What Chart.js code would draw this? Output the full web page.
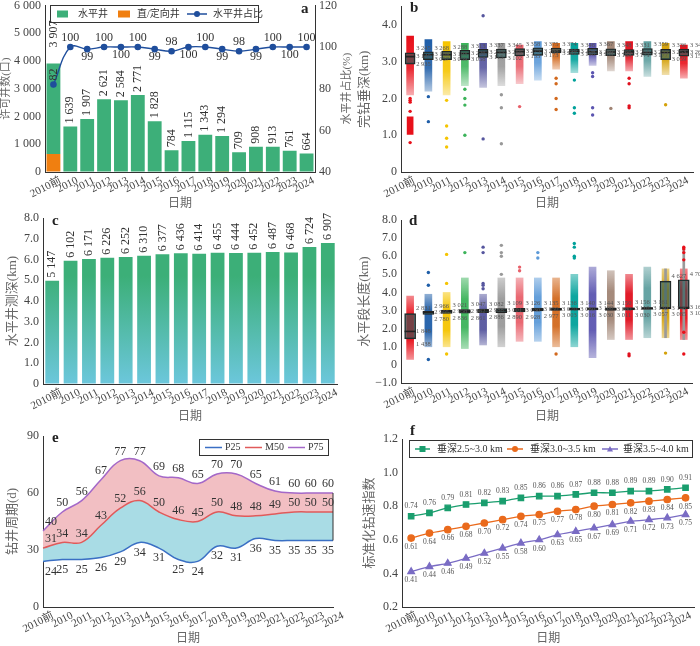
<!DOCTYPE html>
<html>
<head>
<meta charset="utf-8">
<script src="https://cdn.jsdelivr.net/npm/chart.js"></script>
<style>
  html, body { margin: 0; padding: 0; background: #fff; }
  #wrap { position: relative; width: 700px; height: 646px; overflow: hidden; }
  .pane { position: absolute; }
</style>
</head>
<body>
<div id="wrap">
  <div class="pane" style="left:0;top:0"><canvas id="ca" width="360" height="212"></canvas></div>
  <div class="pane" style="left:350px;top:0"><canvas id="cb" width="350" height="212"></canvas></div>
  <div class="pane" style="left:0;top:212px"><canvas id="cc" width="350" height="212"></canvas></div>
  <div class="pane" style="left:350px;top:212px"><canvas id="cd" width="350" height="212"></canvas></div>
  <div class="pane" style="left:0;top:424px"><canvas id="ce" width="350" height="222"></canvas></div>
  <div class="pane" style="left:350px;top:424px"><canvas id="cf" width="350" height="222"></canvas></div>
</div>
<script>
const years = ['2010前', '2010', '2011', '2012', '2013', '2014', '2015', '2016', '2017', '2018', '2019', '2020', '2021', '2022', '2023', '2024'];

// a - permitted wells
const aTotal = [3907, 1639, 1907, 2621, 2584, 2771, 1828, 784, 1115, 1343, 1294, 709, 908, 913, 761, 664];
const aDirectional = [650, 0, 19, 0, 0, 0, 18, 16, 0, 0, 13, 14, 9, 0, 0, 0];
const aShare = [82, 100, 99, 100, 100, 100, 99, 98, 100, 100, 99, 98, 99, 100, 100, 100];

// b - vertical depth (km)
const bLo = [2.10, 2.20, 2.10, 2.35, 2.30, 2.35, 2.40, 2.50, 2.80, 2.70, 2.90, 2.75, 2.75, 2.60, 2.65, 2.55];
const bHi = [3.70, 3.60, 3.55, 3.50, 3.50, 3.50, 3.45, 3.55, 3.50, 3.50, 3.50, 3.55, 3.55, 3.55, 3.50, 3.45];
const bClump = [[1.02, 1.50], null, null, null, null, null, null, null, null, null, null, null, null, null, null, null];
const bOut = [[0.8, 1.65, 1.9, 1.95, 2.0], [2.05, 1.37], [1.95, 1.25, 0.92, 0.68], [2.25, 2.0, 1.82, 1.0], [0.9, 4.25],
  [2.1, 1.75, 0.77], [1.78], [], [2.55, 2.4, 2.0, 1.7], [2.5, 1.75, 1.6], [2.7, 2.6, 1.75, 1.55], [1.73],
  [2.55, 2.4, 1.8, 1.75], [], [1.83], []];
const bQ1 = [2.935, 3.057, 3.059, 3.058, 3.115, 3.102, 3.155, 3.173, 3.242, 3.198, 3.189, 3.168, 3.171, 3.177, 3.059, 3.150];
const bMed = [3.140, 3.189, 3.193, 3.226, 3.255, 3.255, 3.275, 3.288, 3.290, 3.284, 3.269, 3.266, 3.268, 3.253, 3.253, 3.268];
const bQ3 = [3.245, 3.268, 3.288, 3.313, 3.337, 3.345, 3.358, 3.375, 3.374, 3.346, 3.367, 3.348, 3.331, 3.359, 3.336, 3.342];

// c - horizontal well measured depth
const cDepth = [4.97, 5.94, 6.02, 6.09, 6.12, 6.18, 6.25, 6.30, 6.28, 6.33, 6.31, 6.33, 6.36, 6.34, 6.60, 6.80];
const cLabel = [5147, 6102, 6171, 6226, 6252, 6310, 6377, 6436, 6414, 6455, 6444, 6452, 6487, 6468, 6724, 6907];

// d - lateral length (km)
const dLo = [0.30, 1.00, 1.00, 0.90, 1.10, 1.00, 1.30, 1.30, 1.00, 1.00, 0.40, 1.40, 1.40, 1.50, 1.50, 1.40];
const dHi = [3.80, 3.90, 4.00, 4.80, 3.90, 4.80, 4.80, 4.80, 4.80, 5.00, 5.40, 5.20, 5.00, 5.40, 5.30, 5.30];
const dOut = [[], [0.3, 4.4, 5.1], [0.6, 4.5, 6.1], [6.2], [4.2, 4.4, 4.5, 6.2, 6.5], [5.0, 6.0, 6.2, 6.6], [5.2, 5.4],
  [5.9, 6.2], [0.6], [5.9, 6.0, 6.5, 6.7], [], [], [0.5, 0.6], [], [0.65], [5.8, 6.2, 6.4, 6.5, 1.8, 0.6]];
const dWhisker = [null, null, null, null, null, null, null, null, null, null, null, null, null, null, [1.5, 5.3], [1.4, 6.45]];
const dQ1 = [1.438, 2.780, 2.836, 2.861, 2.886, 2.890, 2.928, 2.977, 3.003, 3.016, 3.030, 3.011, 3.030, 3.057, 3.085, 3.105];
const dMed = [1.848, 2.905, 2.958, 2.962, 2.988, 3.001, 3.030, 3.050, 3.070, 3.080, 3.100, 3.080, 3.110, 3.130, 3.146, 3.165];
const dQ3 = [2.831, 2.966, 3.021, 3.047, 3.082, 3.109, 3.126, 3.135, 3.136, 3.140, 3.144, 3.150, 3.156, 3.161, 4.627, 4.702];

// e - drilling cycle (d)
const eP25 = [24, 25, 25, 26, 29, 34, 31, 25, 24, 32, 31, 36, 35, 35, 35, 35];
const eM50 = [31, 34, 34, 43, 52, 56, 50, 46, 45, 50, 48, 48, 49, 50, 50, 50];
const eP75 = [40, 50, 56, 67, 77, 77, 69, 68, 65, 70, 70, 65, 61, 60, 60, 60];

// f - normalized ROP index
const fShallow = [0.74, 0.76, 0.79, 0.81, 0.82, 0.83, 0.85, 0.86, 0.86, 0.87, 0.88, 0.88, 0.89, 0.89, 0.90, 0.91];
const fMiddle = [0.61, 0.64, 0.66, 0.68, 0.70, 0.72, 0.74, 0.75, 0.77, 0.78, 0.80, 0.81, 0.82, 0.83, 0.84, 0.85];
const fDeep = [0.41, 0.44, 0.46, 0.49, 0.52, 0.55, 0.58, 0.60, 0.63, 0.65, 0.67, 0.69, 0.71, 0.72, 0.73, 0.75];

const palette = ['#e8101a', '#1f5ea8', '#f5c400', '#3cb35a', '#56569e', '#999999', '#e8606a', '#5c9ad8',
  '#d2691e', '#00a19a', '#5b55b0', '#a08474', '#e0101e', '#5f9f9f', '#d4a10a', '#e8101a'];

const FONT = "'Liberation Serif', 'Noto Sans CJK SC', serif";
Chart.defaults.font.family = FONT;
Chart.defaults.font.size = 12;
Chart.defaults.color = '#444';
Chart.defaults.animation = false;
Chart.defaults.plugins.legend.display = false;
Chart.defaults.plugins.tooltip.enabled = false;

function fmt(n) { return String(n).replace(/\B(?=(\d{3})+(?!\d))/g, ' '); }

function rgba(hex, a) {
  const n = parseInt(hex.slice(1), 16);
  return 'rgba(' + (n >> 16) + ',' + ((n >> 8) & 255) + ',' + (n & 255) + ',' + a + ')';
}

function xScale(h, pb, offset, lo) {
  return {
    type: 'category', offset: offset,
    grid: { drawOnChartArea: false, drawTicks: false },
    border: { color: '#333' },
    ticks: { autoSkip: false, maxRotation: 27, minRotation: 27, padding: 2, labelOffset: lo,
      color: '#444', font: { size: 11 } },
    title: { display: true, text: '日期', color: '#666', font: { size: 12 }, padding: { top: 0, bottom: pb } },
    afterFit(s) { s.height = h; s.paddingLeft = 0; s.paddingRight = 0; }
  };
}

function yScale(o) {
  return {
    position: o.pos || 'left', min: o.min, max: o.max,
    grid: { drawOnChartArea: false, drawTicks: false },
    border: { color: '#333' },
    ticks: { stepSize: o.step, padding: 4, color: '#444', font: { size: 12 }, callback: o.fmt },
    title: { display: !o.noTitle, text: o.title, color: '#666', font: { size: o.ts || 13 }, padding: { top: o.tp, bottom: 0 } },
    afterBuildTicks(s) {
      s.ticks = s.ticks.filter(t => {
        const k = (t.value - o.min) / o.step;
        return Math.abs(k - Math.round(k)) < 1e-6;
      });
    },
    afterFit(s) { s.width = o.w; s.paddingTop = 0; s.paddingBottom = 0; }
  };
}

function oneDec(v) {
  if (Math.abs(v) < 1e-9) return '0';
  return (v < 0 ? '\u2212' : '') + Math.abs(v).toFixed(1);
}

function drawMarker(c, kind, x, y, color, r) {
  c.fillStyle = color;
  c.beginPath();
  if (kind === 'circle') c.arc(x, y, r, 0, Math.PI * 2);
  else if (kind === 'rect') c.rect(x - r, y - r, 2 * r, 2 * r);
  else if (kind === 'triangle') { c.moveTo(x, y - r); c.lineTo(x + r, y + r * 0.8); c.lineTo(x - r, y + r * 0.8); c.closePath(); }
  c.fill();
}

function letter(ch, x, y) {
  return {
    id: 'letter',
    afterDraw(chart) {
      const c = chart.ctx;
      c.save();
      c.fillStyle = '#222';
      c.font = 'bold 15px ' + FONT;
      c.textAlign = 'left';
      c.textBaseline = 'middle';
      c.fillText(ch, x, y);
      c.restore();
    }
  };
}

function legendBox(box, items, size) {
  return {
    id: 'legendBox',
    afterDatasetsDraw(chart) {
      const c = chart.ctx;
      c.save();
      c.fillStyle = '#fff';
      c.fillRect(box[0], box[1], box[2], box[3]);
      c.strokeStyle = '#333';
      c.lineWidth = 1;
      c.strokeRect(box[0] + 0.5, box[1] + 0.5, box[2], box[3]);
      const cy = box[1] + box[3] / 2 + 0.5;
      items.forEach(it => {
        if (it.rect) { c.fillStyle = it.color; c.fillRect(it.x, cy - it.rect / 2, it.w, it.rect); }
        if (it.line) {
          c.strokeStyle = it.color; c.lineWidth = 1.5;
          c.beginPath(); c.moveTo(it.x, cy); c.lineTo(it.x + it.w, cy); c.stroke();
        }
        if (it.marker) drawMarker(c, it.marker, it.x + it.w / 2, cy, it.color, 3);
        c.fillStyle = '#333';
        c.font = size + 'px ' + FONT;
        c.textAlign = 'left';
        c.textBaseline = 'middle';
        c.fillText(it.text, it.tx, cy);
      });
      c.restore();
    }
  };
}

function boxText(q1, med, q3, dx, upTop, downBottom) {
  return {
    id: 'boxText',
    afterDatasetsDraw(chart) {
      const { ctx: c, scales: { x, y } } = chart;
      c.save();
      c.font = '6.5px ' + FONT;
      c.fillStyle = '#555';
      c.textAlign = 'left';
      c.textBaseline = 'middle';
      q1.forEach((v, i) => {
        const px = x.getPixelForValue(i) + dx;
        c.fillText(fmt(Math.round(q3[i] * 1000)), px, y.getPixelForValue(q3[i]) - upTop);
        c.fillText(fmt(Math.round(med[i] * 1000)), px, y.getPixelForValue(med[i]));
        c.fillText(fmt(Math.round(v * 1000)), px, y.getPixelForValue(v) + downBottom);
      });
      c.restore();
    }
  };
}

// cloud of dots drawn as a column that thins out where the points get sparse
function cloudFill(lo, hi, stops) {
  return ctx => {
    const chart = ctx.chart;
    const i = ctx.dataIndex;
    const col = palette[i];
    if (!chart.chartArea || lo[i] == null) return col;
    const y = chart.scales.y;
    const g = chart.ctx.createLinearGradient(0, y.getPixelForValue(lo[i]), 0, y.getPixelForValue(hi[i]));
    stops.forEach(s => g.addColorStop(s[0], rgba(col, s[1])));
    return g;
  };
}

function stripData(lo, hi, out, q1, med, q3, clump, whisk, boxW, stops) {
  const ds = [];
  ds.push({ type: 'bar', data: lo.map((v, i) => [v, hi[i]]), backgroundColor: cloudFill(lo, hi, stops),
    barThickness: 7, grouped: false, order: 5 });
  if (clump) ds.push({ type: 'bar', data: clump, backgroundColor: palette, barThickness: 6, grouped: false, order: 5 });
  if (whisk) ds.push({ type: 'bar', data: whisk, backgroundColor: '#9a9a9a', barThickness: 2, grouped: false, order: 4 });
  const pts = [];
  out.forEach((arr, i) => arr.forEach(v => pts.push({ x: years[i], y: v, c: palette[i] })));
  ds.push({
    type: 'line', data: pts, showLine: false, pointRadius: 1.7, pointBorderWidth: 0,
    pointBackgroundColor: ctx => (ctx.raw && ctx.raw.c) || '#000', order: 3
  });
  ds.push({
    type: 'bar', data: q1.map((v, i) => [v, q3[i]]), backgroundColor: 'rgba(40,90,90,0.6)',
    borderColor: '#222', borderWidth: 1, borderSkipped: false, barThickness: boxW, grouped: false, order: 2
  });
  ds.push({
    type: 'line', data: med, showLine: false, pointStyle: 'line', pointRadius: boxW / 2,
    pointBorderColor: '#222', pointBorderWidth: 1.6, order: 1
  });
  return ds;
}

// ---------- a ----------
const aLabels = {
  id: 'aLabels',
  afterDatasetsDraw(chart) {
    const { ctx: c, scales: { x, y, y1 } } = chart;
    c.save();
    c.fillStyle = '#333';
    c.font = '12px ' + FONT;
    aTotal.forEach((v, i) => {
      c.save();
      c.translate(x.getPixelForValue(i), y.getPixelForValue(v) - (i === 0 ? 16 : 3));
      c.rotate(-Math.PI / 2);
      c.textAlign = 'left';
      c.textBaseline = 'middle';
      c.fillText(fmt(v), 0, 0);
      c.restore();
    });
    aShare.forEach((v, i) => {
      const px = x.getPixelForValue(i), py = y1.getPixelForValue(v);
      c.textAlign = 'center';
      if (i === 0) {
        c.save(); c.translate(px, py - 4); c.rotate(-Math.PI / 2);
        c.textAlign = 'left'; c.textBaseline = 'middle'; c.fillText(v, 0, 0); c.restore();
      } else if (i % 2 === 1) {
        c.textBaseline = 'bottom'; c.fillText(v, px, py - 3);
      } else {
        c.textBaseline = 'top'; c.fillText(v, px, py + 2);
      }
    });
    // right axis title, reading bottom to top
    const area = chart.chartArea;
    c.save();
    c.translate(347, (area.top + area.bottom) / 2);
    c.rotate(-Math.PI / 2);
    c.fillStyle = '#666';
    c.font = '11px ' + FONT;
    c.textAlign = 'center';
    c.textBaseline = 'middle';
    c.fillText('水平井占比(%)', 0, 0);
    c.restore();
    c.restore();
  }
};

new Chart(document.getElementById('ca'), {
  data: {
    labels: years,
    datasets: [
      { type: 'line', label: '水平井占比', data: aShare, yAxisID: 'y1', borderColor: '#1f4e9c', backgroundColor: '#1f4e9c',
        pointRadius: 2.6, borderWidth: 1.4, tension: 0.4, order: 0 },
      { type: 'bar', label: '直/定向井', data: aDirectional, backgroundColor: '#f07f10', stack: 's', order: 1,
        barPercentage: 0.82, categoryPercentage: 1 },
      { type: 'bar', label: '水平井', data: aTotal.map((v, i) => v - aDirectional[i]), backgroundColor: '#3daf79', stack: 's', order: 1,
        barPercentage: 0.82, categoryPercentage: 1 }
    ]
  },
  options: {
    responsive: false,
    layout: { padding: { left: 0, right: 10, top: 5, bottom: 0 } },
    scales: {
      x: Object.assign(xScale(40, 1, true, 7), { stacked: true }),
      y: Object.assign(yScale({ min: 0, max: 6000, step: 1000, w: 45, title: '许可井数(口)', tp: 0, ts: 11, fmt: v => fmt(v) }), { stacked: true }),
      y1: yScale({ pos: 'right', min: 40, max: 120, step: 20, w: 35, title: '', noTitle: true, fmt: v => v })
    }
  },
  plugins: [legendBox([50, 5, 208, 17], [
    { rect: 7, x: 57, w: 11, color: '#3daf79', text: '水平井', tx: 78 },
    { rect: 7, x: 118, w: 12, color: '#f07f10', text: '直/定向井', tx: 137 },
    { line: true, marker: 'circle', x: 187, w: 20, color: '#1f4e9c', text: '水平井占比', tx: 213 }
  ], 10), aLabels, letter('a', 301, 9)]
});

// ---------- b ----------
new Chart(document.getElementById('cb'), {
  data: { labels: years, datasets: stripData(bLo, bHi, bOut, bQ1, bMed, bQ3, bClump, null, 10,
    [[0, 0.35], [0.45, 0.9], [1, 1]]) },
  options: {
    responsive: false,
    layout: { padding: { left: 0, right: 7, top: 3, bottom: 0 } },
    scales: {
      x: xScale(40, 1, true, 4),
      y: yScale({ min: 0, max: 4.5, step: 1, w: 51, title: '完钻垂深(km)', tp: 7, fmt: oneDec })
    }
  },
  plugins: [boxText(bQ1, bMed, bQ3, 6, 4, 0), letter('b', 60, 8)]
});

// ---------- c ----------
const cText = {
  id: 'cText',
  afterDatasetsDraw(chart) {
    const { ctx: c, scales: { x, y } } = chart;
    c.save();
    c.fillStyle = '#333';
    c.font = '12px ' + FONT;
    cLabel.forEach((v, i) => {
      c.save();
      c.translate(x.getPixelForValue(i), y.getPixelForValue(cDepth[i]) - 3);
      c.rotate(-Math.PI / 2);
      c.textAlign = 'left';
      c.textBaseline = 'middle';
      c.fillText(fmt(v), 0, 0);
      c.restore();
    });
    c.restore();
  }
};

new Chart(document.getElementById('cc'), {
  type: 'bar',
  data: {
    labels: years,
    datasets: [{
      data: cDepth, barPercentage: 0.75, categoryPercentage: 1,
      backgroundColor: ctx => {
        const { chart } = ctx;
        const area = chart.chartArea;
        if (!area) return '#3daf79';
        const g = chart.ctx.createLinearGradient(0, area.bottom, 0, chart.scales.y.getPixelForValue(5.2));
        g.addColorStop(0, '#6cc7dc');
        g.addColorStop(1, '#3caf78');
        return g;
      }
    }]
  },
  options: {
    responsive: false,
    layout: { padding: { left: 0, right: 13, top: 6, bottom: 0 } },
    scales: {
      x: xScale(40, 0, true, 9),
      y: yScale({ min: 0, max: 8, step: 1, w: 43, title: '水平井测深(km)', tp: 5, fmt: oneDec })
    }
  },
  plugins: [cText, letter('c', 52, 9)]
});

// ---------- d ----------
new Chart(document.getElementById('cd'), {
  data: { labels: years, datasets: stripData(dLo, dHi, dOut, dQ1, dMed, dQ3, null, dWhisker, 11,
    [[0, 0.45], [0.3, 0.95], [0.7, 0.95], [1, 0.5]]) },
  options: {
    responsive: false,
    layout: { padding: { left: 0, right: 7, top: 8, bottom: 0 } },
    scales: {
      x: xScale(41, 0, true, 4),
      y: yScale({ min: -1, max: 8, step: 1, w: 51, title: '水平段长度(km)', tp: 7, fmt: oneDec })
    }
  },
  plugins: [boxText(dQ1, dMed, dQ3, 6, 5, 5), letter('d', 59, 9)]
});

// ---------- e ----------
const eText = {
  id: 'eText',
  afterDatasetsDraw(chart) {
    const { ctx: c, scales: { x, y } } = chart;
    const n = years.length;
    const nudge = i => (i === 0 ? 8 : (i === n - 1 ? -5 : (i === n - 2 ? -3 : 0)));
    c.save();
    const xr = x.getPixelForValue(n - 1);
    c.strokeStyle = '#333';
    c.lineWidth = 1;
    c.beginPath();
    c.moveTo(xr, y.getPixelForValue(eP25[n - 1]));
    c.lineTo(xr, y.getPixelForValue(eP75[n - 1]));
    c.stroke();
    c.fillStyle = '#333';
    c.font = '12px ' + FONT;
    c.textAlign = 'center';
    c.textBaseline = 'bottom';
    eP75.forEach((v, i) => c.fillText(v, x.getPixelForValue(i) + nudge(i), y.getPixelForValue(v) - 3));
    eM50.forEach((v, i) => c.fillText(v, x.getPixelForValue(i) + nudge(i), y.getPixelForValue(v) - 3));
    c.textBaseline = 'top';
    eP25.forEach((v, i) => c.fillText(v, x.getPixelForValue(i) + nudge(i), y.getPixelForValue(v) + 4));
    c.restore();
  }
};

new Chart(document.getElementById('ce'), {
  type: 'line',
  data: {
    labels: years,
    datasets: [
      { label: 'P25', data: eP25, borderColor: '#3a6fc4', borderWidth: 1.5, pointRadius: 0, tension: 0.4, fill: false },
      { label: 'M50', data: eM50, borderColor: '#e05a5a', backgroundColor: '#a9dce5', borderWidth: 1.5, pointRadius: 0, tension: 0.4, fill: '-1' },
      { label: 'P75', data: eP75, borderColor: '#a468c8', backgroundColor: '#f2bfc3', borderWidth: 1.5, pointRadius: 0, tension: 0.4, fill: '-1' }
    ]
  },
  options: {
    responsive: false,
    layout: { padding: { left: 0, right: 17, top: 12, bottom: 0 } },
    scales: {
      x: xScale(39, 0, false, 10),
      y: yScale({ min: 0, max: 90, step: 30, w: 43, title: '钻井周期(d)', tp: 5, fmt: v => v })
    }
  },
  plugins: [eText, letter('e', 52, 14), legendBox([199, 15, 129, 16], [
    { line: true, x: 205, w: 17, color: '#3a6fc4', text: 'P25', tx: 225 },
    { line: true, x: 245, w: 17, color: '#e05a5a', text: 'M50', tx: 265 },
    { line: true, x: 288, w: 17, color: '#a468c8', text: 'P75', tx: 308 }
  ], 10)]
});

// ---------- f ----------
const fText = {
  id: 'fText',
  afterDatasetsDraw(chart) {
    const { ctx: c, scales: { x, y } } = chart;
    c.save();
    c.fillStyle = '#555';
    c.font = '7.5px ' + FONT;
    c.textAlign = 'center';
    c.textBaseline = 'bottom';
    fShallow.forEach((v, i) => c.fillText(v.toFixed(2), x.getPixelForValue(i), y.getPixelForValue(v) - 6));
    c.textBaseline = 'top';
    fMiddle.forEach((v, i) => c.fillText(v.toFixed(2), x.getPixelForValue(i), y.getPixelForValue(v) + 5));
    fDeep.forEach((v, i) => c.fillText(v.toFixed(2), x.getPixelForValue(i), y.getPixelForValue(v) + 5));
    c.restore();
  }
};

new Chart(document.getElementById('cf'), {
  type: 'line',
  data: {
    labels: years,
    datasets: [
      { label: '垂深2.5~3.0 km', data: fShallow, borderColor: '#1a9e6e', backgroundColor: '#1a9e6e', borderWidth: 1.3,
        pointStyle: 'rect', pointRadius: 3.8, tension: 0.2 },
      { label: '垂深3.0~3.5 km', data: fMiddle, borderColor: '#ea6a1c', backgroundColor: '#ea6a1c', borderWidth: 1.3,
        pointStyle: 'circle', pointRadius: 3.2, tension: 0.2 },
      { label: '垂深3.5~4.0 km', data: fDeep, borderColor: '#7a6cc4', backgroundColor: '#7a6cc4', borderWidth: 1.3,
        pointStyle: 'triangle', pointRadius: 3.8, tension: 0.2 }
    ]
  },
  options: {
    responsive: false,
    layout: { padding: { left: 0, right: 3, top: 15, bottom: 0 } },
    scales: {
      x: xScale(39, 0, true, 5),
      y: yScale({ min: 0.2, max: 1.2, step: 0.2, w: 52, title: '标准化钻速指数', tp: 12, fmt: v => v.toFixed(1) })
    }
  },
  plugins: [fText, letter('f', 60, 7), legendBox([59, 16, 283, 17], [
    { line: true, marker: 'rect', x: 65, w: 15, color: '#1a9e6e', text: '垂深2.5~3.0 km', tx: 87 },
    { line: true, marker: 'circle', x: 157, w: 16, color: '#ea6a1c', text: '垂深3.0~3.5 km', tx: 180 },
    { line: true, marker: 'triangle', x: 252, w: 16, color: '#7a6cc4', text: '垂深3.5~4.0 km', tx: 273 }
  ], 10)]
});
</script>
</body>
</html>
